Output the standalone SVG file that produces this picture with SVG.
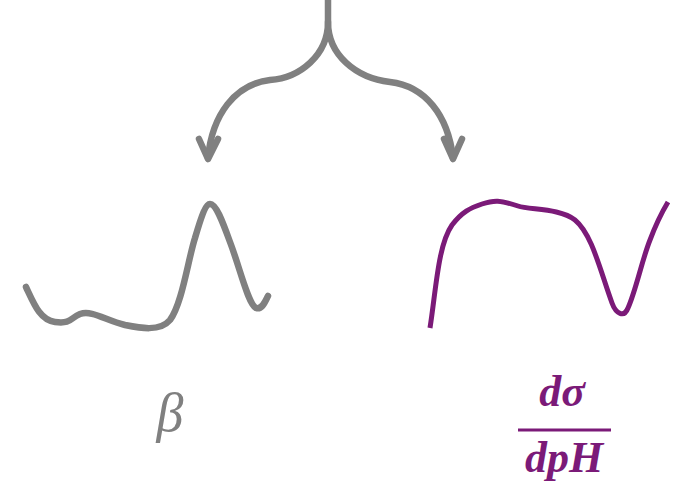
<svg xmlns="http://www.w3.org/2000/svg" width="675" height="492" viewBox="0 0 675 492">
<style>
.gray{fill:none;stroke:#808080;stroke-width:6.5;stroke-linecap:round;stroke-linejoin:round}
.purple{fill:none;stroke:#7b1a78;stroke-width:5;stroke-linecap:butt;stroke-linejoin:round}
.lbl{font-family:"Liberation Serif","DejaVu Serif",serif;font-style:italic}
</style>
<rect width="675" height="492" fill="#ffffff"/>
<g id="connectors">
<path class="gray" d="M328,0 L328,22 C328,55 300,78 270,80 C235,84 212,115 208,158" stroke-linecap="butt"/>
<path class="gray" d="M328,22 C328,55 356,78 390,82 C425,86 448,115 453,158"/>
<path class="gray" d="M199,139 L208,159 L218,139"/>
<path class="gray" d="M444,139 L453,159 L462,139"/>
</g>
<g id="beta-curve">
<path class="gray" d="M26,287 C34,304 40,320 55,322 C72,324 70,318 80,314 C92,310 105,320 125,325 C140,328 160,332 170,320 C182,304 188,260 195,238 C202,214 206,204 210,204 C216,204 222,220 230,242 C240,268 248,304 256,308 C262,310 265,302 268,296"/>
</g>
<g id="dsigma-curve">
<path class="purple" d="M430,328 C436,290 438,245 452,225 C462,212 470,208 482,204 C494,200 500,200 518,206 C530,210 560,208 575,220 C592,234 600,270 612,303 C616,314 624,318 628,308 C636,290 642,260 650,240 C656,224 662,212 668,202"/>
</g>
<g id="beta-label">
<text class="lbl" x="170" y="431" font-size="54" fill="#808080" text-anchor="middle">β</text>
</g>
<g id="dsigma-label">
<text class="lbl" x="562" y="406" font-size="44" font-weight="bold" fill="#7b1a78" text-anchor="middle">dσ</text>
<line x1="518" y1="430" x2="611" y2="430" stroke="#7b1a78" stroke-width="3"/>
<text class="lbl" x="564" y="472" font-size="44" font-weight="bold" fill="#7b1a78" text-anchor="middle">dpH</text>
</g>
</svg>
